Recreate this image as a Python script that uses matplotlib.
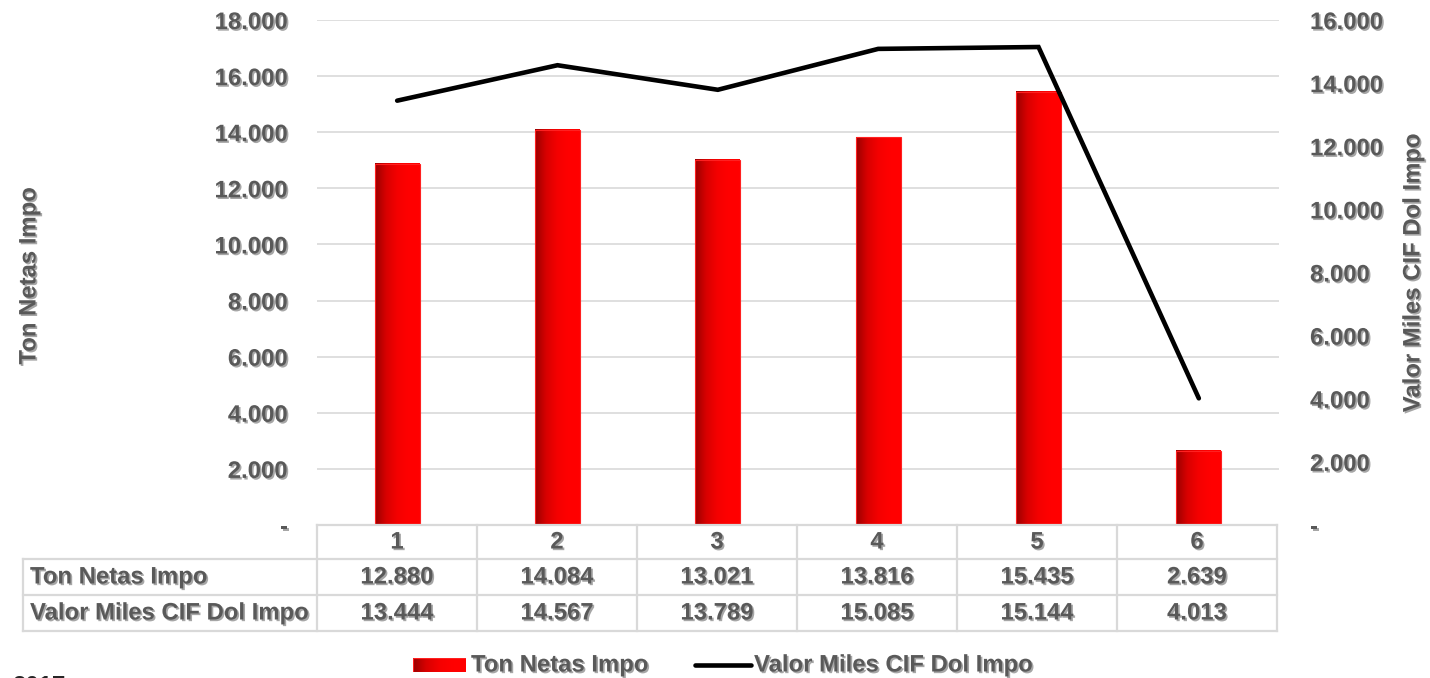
import matplotlib
matplotlib.use("Agg")
import matplotlib.pyplot as plt
import matplotlib.patheffects as pe
from matplotlib.lines import Line2D
from matplotlib.patches import Rectangle
from matplotlib.colors import LinearSegmentedColormap
import numpy as np

categories = ["1", "2", "3", "4", "5", "6"]
ton_netas = [12880, 14084, 13021, 13816, 15435, 2639]
valor_miles = [13444, 14567, 13789, 15085, 15144, 4013]
left_ticks = [0, 2000, 4000, 6000, 8000, 10000, 12000, 14000, 16000, 18000]
right_ticks = [0, 2000, 4000, 6000, 8000, 10000, 12000, 14000, 16000]
series_names = ["Ton Netas Impo", "Valor Miles CIF Dol Impo"]

plt.rcParams['font.family'] = ['Liberation Sans', 'DejaVu Sans']
plt.rcParams['font.weight'] = 'bold'
TXT = '#595959'
GRID = '#D9D9D9'
FS = 17.2
shadow = [pe.SimplePatchShadow(offset=(1.2, -1.2), shadow_rgbFace='#000000', alpha=0.35), pe.Normal()]

def fmt(v):
    return '-' if v == 0 else f"{v:,.0f}".replace(',', '.')

W, H = 1430, 678
PX2PT = 72 / 100
fig = plt.figure(figsize=(W / 100, H / 100), dpi=100)
x0p, x1p, y0p, y1p = 317, 1279, 525, 20
ax = fig.add_axes([x0p / W, 1 - y0p / H, (x1p - x0p) / W, (y0p - y1p) / H])
ax2 = ax.twinx()

n = len(categories)
xs = np.arange(n)
ax.set_xlim(-0.5, n - 0.5)
ax.set_ylim(0, 18000)
ax2.set_ylim(0, 16000)

# grid
for t in left_ticks[1:]:
    ax.axhline(t, color=GRID, lw=1.2, zorder=0)

# gradient bars
cmap = LinearSegmentedColormap.from_list('g', ['#9A0000', '#D80000', '#F50000', '#FF0000', '#FF0000'])
grad = np.linspace(0, 1, 256).reshape(1, -1)
bw = 0.28
for x, v in zip(xs, ton_netas):
    ax.imshow(grad, cmap=cmap, extent=[x - bw / 2, x + bw / 2, 0, v], aspect='auto', zorder=2, interpolation='bilinear')
    ax.add_patch(Rectangle((x - bw / 2, 0), bw, v, fill=False, edgecolor='#FF2020', lw=0.8, zorder=3))
ax.set_xlim(-0.5, n - 0.5)
ax.set_ylim(0, 18000)

ax2.plot(xs, valor_miles, color='black', lw=3.3, solid_capstyle='round', solid_joinstyle='miter', zorder=5)

for a in (ax, ax2):
    for s in a.spines.values():
        s.set_visible(False)
    a.tick_params(length=0)
ax.set_xticks([])
ax.set_yticks(left_ticks)
ax.set_yticklabels([fmt(t) for t in left_ticks])
ax2.set_yticks(right_ticks)
ax2.set_yticklabels([fmt(t) for t in right_ticks])
ax.tick_params(axis='y', pad=29 * PX2PT)
ax2.tick_params(axis='y', pad=31 * PX2PT)
for lab in ax.get_yticklabels() + ax2.get_yticklabels():
    lab.set_fontsize(FS)
    lab.set_color(TXT)
    lab.set_fontweight('bold')
    lab.set_path_effects(shadow)

fig.text(29 / W, 1 - 276 / H, series_names[0], rotation=90, ha='center', va='center',
         fontsize=FS, color=TXT, path_effects=shadow)
fig.text(1413 / W, 1 - 273 / H, series_names[1], rotation=90, ha='center', va='center',
         fontsize=FS, color=TXT, path_effects=shadow)

def fx(p):
    return p / W
def fy(p):
    return 1 - p / H

# data table
rows_y = [525, 559, 595, 631]
col_edges = np.linspace(x0p, 1277, n + 1)
lab_left = 23
fig.add_artist(Line2D([fx(x0p), fx(col_edges[-1])], [fy(525), fy(525)], color=GRID, lw=1.6))
for yy in rows_y[1:]:
    fig.add_artist(Line2D([fx(lab_left), fx(col_edges[-1])], [fy(yy), fy(yy)], color=GRID, lw=1.6))
fig.add_artist(Line2D([fx(lab_left), fx(lab_left)], [fy(559), fy(631)], color=GRID, lw=1.6))
for xe in col_edges:
    fig.add_artist(Line2D([fx(xe), fx(xe)], [fy(525), fy(631)], color=GRID, lw=1.6))
centers = (col_edges[:-1] + col_edges[1:]) / 2
for c, cat in zip(centers, categories):
    fig.text(fx(c), fy(542), cat, ha='center', va='center', fontsize=FS, color=TXT, path_effects=shadow)
for r, (name, vals) in enumerate(zip(series_names, [ton_netas, valor_miles])):
    yc = (rows_y[r + 1] + rows_y[r + 2]) / 2
    fig.text(fx(30), fy(yc), name, ha='left', va='center', fontsize=FS, color=TXT, path_effects=shadow)
    for c, v in zip(centers, vals):
        fig.text(fx(c), fy(yc), fmt(v), ha='center', va='center', fontsize=FS, color=TXT, path_effects=shadow)

# legend
lax = fig.add_axes([fx(413), fy(672), (466 - 413) / W, (672 - 658) / H])
lax.imshow(grad, cmap=cmap, aspect='auto', extent=[0, 1, 0, 1], interpolation='bilinear')
lax.add_patch(Rectangle((0, 0), 1, 1, fill=False, edgecolor='#FF2020', lw=0.8))
lax.set_xlim(0, 1); lax.set_ylim(0, 1)
lax.axis('off')
fig.text(fx(471), fy(665), series_names[0], ha='left', va='center', fontsize=FS, color=TXT, path_effects=shadow)
fig.add_artist(Line2D([fx(695), fx(751)], [fy(665), fy(665)], color='black', lw=3.3, solid_capstyle='round'))
fig.text(fx(754), fy(665), series_names[1], ha='left', va='center', fontsize=FS, color=TXT, path_effects=shadow)

fig.text(fx(12), fy(675), "2017", ha='left', va='top', fontsize=FS, color='#262626')

fig.savefig('out.png', dpi=100)
